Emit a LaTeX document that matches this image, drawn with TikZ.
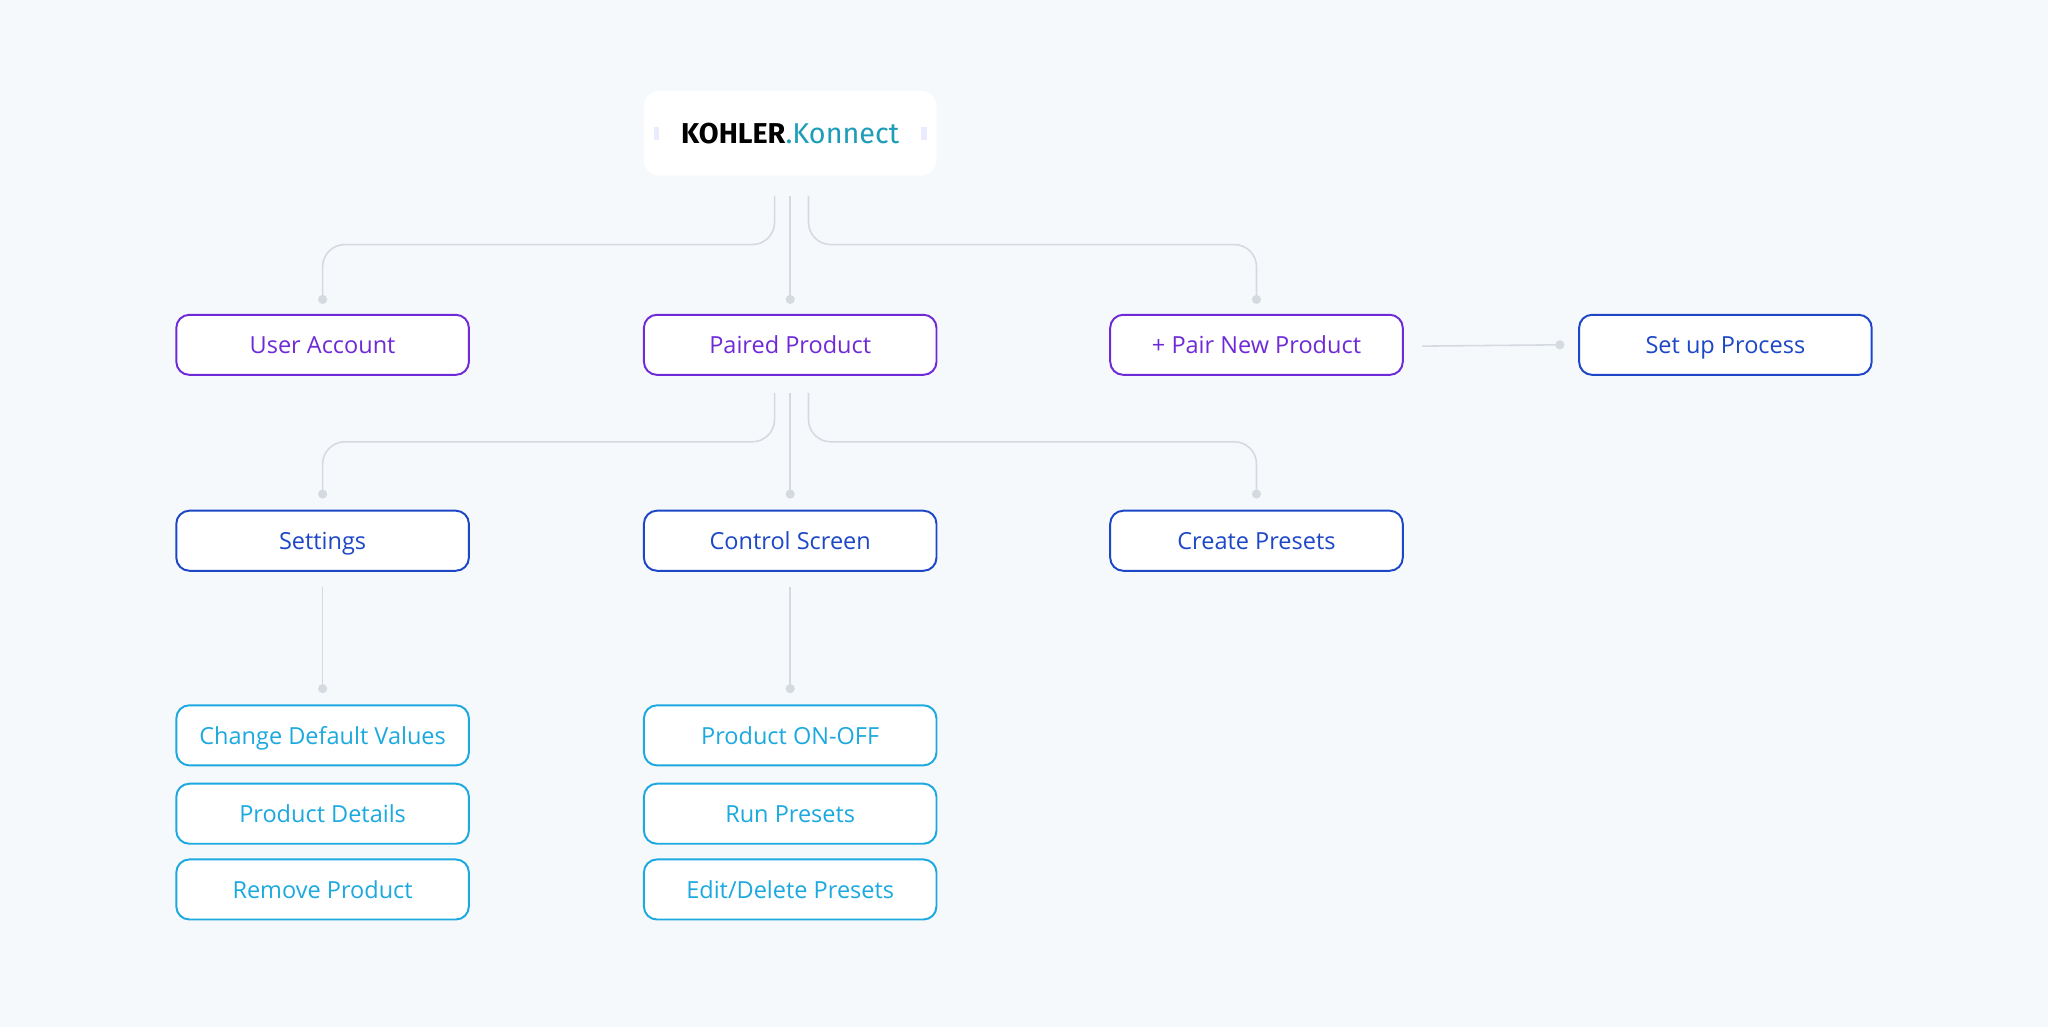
\documentclass[tikz,border=0pt]{standalone}
\usepackage{fontspec}
\setmainfont{Open Sans}
\newfontfamily\logofont{Fira Sans}
\usetikzlibrary{positioning,calc}
\definecolor{bgcol}{HTML}{F6F9FC}
\definecolor{linkcol}{HTML}{D5DAE1}
\definecolor{purplecol}{HTML}{6F2AD8}
\definecolor{bluecol}{HTML}{1D47C6}
\definecolor{cyancol}{HTML}{1CA9DF}
\definecolor{tealcol}{HTML}{1E9DB8}
\begin{document}
\begin{tikzpicture}[x=0.5pt,y=-0.5pt,
    box/.style={draw,rounded corners=5pt,fill=white,line width=0.75pt,minimum width=112pt,minimum height=23pt,inner sep=0pt,text height=7.6pt,text depth=0.9pt,font=\fontsize{9}{10}\selectfont},
    top/.style={box,draw=purplecol,text=purplecol},
    mid/.style={box,draw=bluecol,text=bluecol},
    leaf/.style={box,draw=cyancol,text=cyancol},
    link/.style={draw=linkcol,line width=0.6pt,rounded corners=8.5pt},
    dot/.style={circle,fill=linkcol,inner sep=0pt,minimum size=3.5pt}]
    \fill[bgcol] (0,0) rectangle (1568,786);
    \useasboundingbox (0,0) rectangle (1568,786);
    % logo
    \node (logo) at (605,102) [fill=white,rounded corners=6pt,minimum width=112pt,minimum height=32.5pt,inner sep=0pt] {};
    \node at (logo.center) {\logofont\fontsize{11}{12}\selectfont\textbf{KOHLER}\color{tealcol}.Konnect};
    \fill[blue!8] ($(logo.west)+(8,-5)$) rectangle ($(logo.west)+(12,5)$);
    \fill[blue!8] ($(logo.east)+(-12,-5)$) rectangle ($(logo.east)+(-8,5)$);
    % first row
    \node (ua) at (247,264) [top] {User Account};
    \node (pp) at (605,264) [top] {Paired Product};
    \node (pn) at (962,264) [top] {+ Pair New Product};
    \node (sp) at (1321,264) [mid] {Set up Process};
    % second row
    \node (st) at (247,414) [mid] {Settings};
    \node (cs) at (605,414) [mid] {Control Screen};
    \node (cp) at (962,414) [mid] {Create Presets};
    % leaves
    \node (cd) at (247,563) [leaf] {Change Default Values};
    \node (pd) at (247,623) [leaf] {Product Details};
    \node (rp) at (247,681) [leaf] {Remove Product};
    \node (po) at (605,563) [leaf] {Product ON-OFF};
    \node (rn) at (605,623) [leaf] {Run Presets};
    \node (ed) at (605,681) [leaf] {Edit/Delete Presets};
    % connectors
    \draw[link] ($(logo.south)+(-12,15)$) |- ($(ua.north)+(0,-53)$) -- ($(ua.north)+(0,-11)$) node[dot] {};
    \draw[link] ($(logo.south)+(0,15)$) -- ($(pp.north)+(0,-11)$) node[dot] {};
    \draw[link] ($(logo.south)+(14,15)$) |- ($(pn.north)+(0,-53)$) -- ($(pn.north)+(0,-11)$) node[dot] {};
    \draw[link] ($(pp.south)+(-12,13)$) |- ($(st.north)+(0,-52)$) -- ($(st.north)+(0,-12)$) node[dot] {};
    \draw[link] ($(pp.south)+(0,13)$) -- ($(cs.north)+(0,-12)$) node[dot] {};
    \draw[link] ($(pp.south)+(14,13)$) |- ($(cp.north)+(0,-52)$) -- ($(cp.north)+(0,-12)$) node[dot] {};
    \draw[link] ($(st.south)+(0,12)$) -- ($(cd.north)+(0,-12)$) node[dot] {};
    \draw[link] ($(cs.south)+(0,12)$) -- ($(po.north)+(0,-12)$) node[dot] {};
    \draw[link] ($(pn.east)+(14,1)$) -- ($(sp.west)+(-14,0)$) node[dot] {};
\end{tikzpicture}
\end{document}
